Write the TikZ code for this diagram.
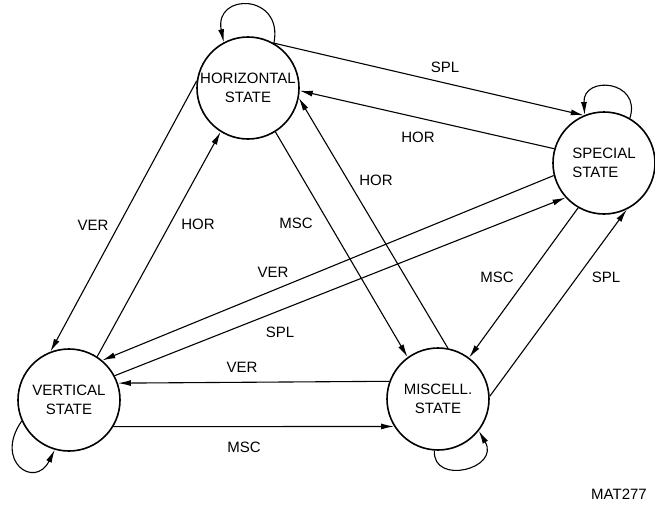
\documentclass[tikz,border=0pt]{standalone}
\usepackage{fontspec}
\setmainfont{Liberation Sans}
\usetikzlibrary{arrows.meta}

\begin{document}
\begin{tikzpicture}[x=1pt,y=-1pt,
  state/.style={circle,draw,line width=1.6pt,minimum size=102pt,inner sep=0pt,
    align=center,font=\fontsize{15}{19}\selectfont},
  trans/.style={line width=1.1pt,-{Latex[length=13pt,width=6pt]}},
  lbl/.style={font=\fontsize{15}{17}\selectfont}]
\useasboundingbox (0,0) rectangle (655,504);

\node[state] (H) at (248,88) {HORIZONTAL\\STATE};
\node[state,align=left] (S) at (604,163) {SPECIAL\\STATE};
\node[state] (V) at (69,400) {VERTICAL\\STATE};
\node[state] (M) at (438,399) {MISCELL.\\STATE};

% self loops
\draw[trans] (H.60) .. controls +(10,-50) and +(-10,-50) .. (H.118);
\draw[trans] (S.60) .. controls +(12,-38) and +(-2,-40) .. (S.112);
\draw[trans] (V.204) .. controls +(-28,40) and +(-20,40) .. (V.254);
\draw[trans] (M.266) .. controls +(-2,35) and +(22,38) .. (M.322);

% transitions
\draw[trans] (H.60) -- (S.113);
\draw[trans] (S.164) -- (H.-3);
\draw[trans] (M.79) -- (H.-11);
\draw[trans] (H.-58) -- (M.126);
\draw[trans] (H.172) -- (V.111);
\draw[trans] (V.57) -- (H.238);
\draw[trans] (V.28) -- (S.222);
\draw[trans] (S.194) -- (V.50);
\draw[trans] (S.240) -- (M.53);
\draw[trans] (M.3) -- (S.296);
\draw[trans] (M.160.5) -- (V.19.5);
\draw[trans] (V.-31) -- (M.212);

\node[lbl] (splHS) at (445,67) {SPL};
\node[lbl] (horSH) at (418,137) {HOR};
\node[lbl] (horMH) at (376,180) {HOR};
\node[lbl] (mscHM) at (296,223) {MSC};
\node[lbl] (verHV) at (93,225) {VER};
\node[lbl] (horVH) at (198,224) {HOR};
\node[lbl] (verSV) at (273,272) {VER};
\node[lbl] (splVS) at (280,332) {SPL};
\node[lbl] (verMV) at (242,367) {VER};
\node[lbl] (mscVM) at (244,447) {MSC};
\node[lbl] (mscSM) at (497,277) {MSC};
\node[lbl] (splMS) at (606,277) {SPL};
\node[lbl] (mat) at (619,494) {MAT277};

\end{tikzpicture}
\end{document}
